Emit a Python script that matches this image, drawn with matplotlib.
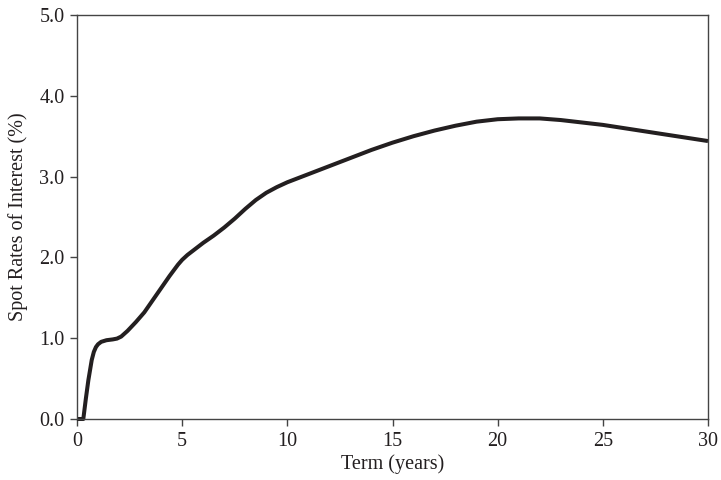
import matplotlib
matplotlib.use("Agg")
import matplotlib.pyplot as plt

term_years = [0, 0.3, 0.42, 0.54, 0.7, 0.8, 0.9, 1.0, 1.15, 1.4, 1.7, 1.9, 2.1, 2.4,
              2.8, 3.2, 3.6, 4.0, 4.4, 4.8, 5.0, 5.25, 5.5, 6.0, 6.5, 7.0, 7.5, 8.0,
              8.5, 9.0, 9.5, 10, 11, 12, 13, 14, 15, 16, 17, 18, 19, 20, 21, 22,
              23, 24, 25, 26, 27, 28, 29, 30]
spot_rates = [0, 0.0, 0.25, 0.48, 0.73, 0.83, 0.89, 0.925, 0.955, 0.975, 0.985, 0.995,
              1.02, 1.09, 1.20, 1.32, 1.47, 1.62, 1.77, 1.91, 1.97, 2.03, 2.08, 2.18,
              2.27, 2.37, 2.48, 2.60, 2.71, 2.80, 2.87, 2.93, 3.03, 3.13, 3.23, 3.33,
              3.42, 3.50, 3.57, 3.63, 3.68, 3.71, 3.72, 3.72, 3.70, 3.67, 3.64, 3.60,
              3.56, 3.52, 3.48, 3.44]
x_ticks = [0, 5, 10, 15, 20, 25, 30]
y_ticks = [0.0, 1.0, 2.0, 3.0, 4.0, 5.0]
y_tick_labels = ["0.0", "1.0", "2.0", "3.0", "4.0", "5.0"]

plt.rcParams['font.family'] = ['Liberation Serif', 'DejaVu Serif']
fig = plt.figure(figsize=(7.21, 4.80), dpi=100)
ax = fig.add_axes([77/721, 1 - 419/480, (708 - 77)/721, (419 - 15)/480])

ax.plot(term_years, spot_rates, color='#231f20', linewidth=2.9,
        solid_capstyle='butt', solid_joinstyle='round', clip_on=False)

ax.set_xlim(0, 30)
ax.set_ylim(0, 5)
ax.set_xticks(x_ticks)
ax.set_yticks(y_ticks)
ax.set_yticklabels(y_tick_labels)
ax.tick_params(direction='out', length=5, width=1, color='#444444',
               labelsize=14.5, labelcolor='#231f20', pad=4)
for s in ax.spines.values():
    s.set_linewidth(1)
    s.set_color('#444444')

ax.set_xlabel("Term (years)", fontsize=14.5, color='#231f20', labelpad=3)
ax.set_ylabel("Spot Rates of Interest (%)", fontsize=14.5, color='#231f20', labelpad=8)

fig.savefig("out.png", dpi=100)
